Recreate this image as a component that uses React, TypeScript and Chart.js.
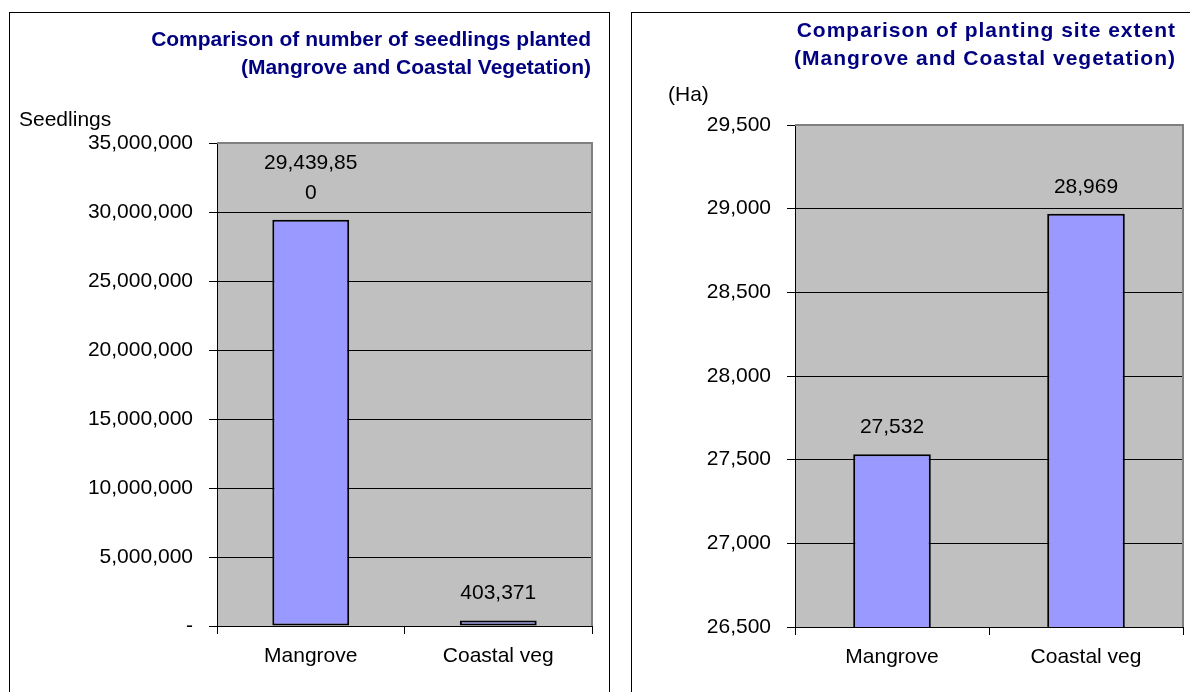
import React, { useEffect, useRef } from 'react';
import { Chart, registerables } from 'chart.js';

Chart.register(...registerables);

const FONT = '"Liberation Sans", Arial, sans-serif';

const categories = ['Mangrove', 'Coastal veg'];
const seedlingsPlanted = [29439850, 403371];
const seedlingsTicks = [0, 5000000, 10000000, 15000000, 20000000, 25000000, 30000000, 35000000];
const seedlingsTitle = ['Comparison of number of seedlings planted', '(Mangrove and Coastal Vegetation)'];
const seedlingsUnit = 'Seedlings';

const siteExtentHa = [27532, 28969];
const siteTicks = [26500, 27000, 27500, 28000, 28500, 29000, 29500];
const siteTitle = ['Comparison of planting site extent', '(Mangrove and Coastal vegetation)'];
const siteUnit = '(Ha)';

const fmt = (v: number) => (v === 0 ? '-' : Math.round(v).toLocaleString('en-US'));

type Cfg = {
  values: number[];
  ticks: number[];
  title: string[];
  unit: string;
  width: number;
  height: number;
  yWidth: number;
  padTop: number;
  padRight: number;
  xHeight: number;
  barPct: number;
  titleRight: number;
  titleYs: number[];
  titleSpacing: string;
  unitX: number;
  unitY: number;
  wrapChars: number;
};

function makeDecor(cfg: Cfg) {
  return {
    id: 'decor',
    beforeDraw(chart: any) {
      const { ctx, chartArea: a } = chart;
      ctx.save();
      ctx.fillStyle = '#C0C0C0';
      ctx.fillRect(a.left, a.top, a.right - a.left, a.bottom - a.top);
      ctx.restore();
    },
    afterDraw(chart: any) {
      const { ctx, chartArea: a } = chart;
      ctx.save();
      ctx.strokeStyle = '#808080';
      ctx.lineWidth = 2;
      ctx.beginPath();
      ctx.moveTo(a.left, a.top);
      ctx.lineTo(a.right, a.top);
      ctx.lineTo(a.right, a.bottom);
      ctx.stroke();
      // titles
      ctx.fillStyle = '#000080';
      ctx.font = `bold 21px ${FONT}`;
      ctx.textAlign = 'right';
      ctx.textBaseline = 'middle';
      (ctx as any).letterSpacing = cfg.titleSpacing;
      cfg.title.forEach((t, i) => ctx.fillText(t, cfg.titleRight, cfg.titleYs[i]));
      (ctx as any).letterSpacing = '0px';
      // unit label
      ctx.fillStyle = '#000';
      ctx.font = `21px ${FONT}`;
      ctx.textAlign = 'left';
      ctx.fillText(cfg.unit, cfg.unitX, cfg.unitY);
      // data labels
      ctx.textAlign = 'center';
      const meta = chart.getDatasetMeta(0);
      meta.data.forEach((el: any, i: number) => {
        const s = fmt(cfg.values[i]);
        const lines: string[] = [];
        for (let k = 0; k < s.length; k += cfg.wrapChars) lines.push(s.slice(k, k + cfg.wrapChars));
        const baseY = el.y - 27;
        lines.forEach((ln, j) => {
          ctx.fillText(ln, el.x, baseY - (lines.length - 1 - j) * 30);
        });
      });
      ctx.restore();
    },
  };
}

function BarChart({ cfg }: { cfg: Cfg }) {
  const ref = useRef<HTMLCanvasElement>(null);
  useEffect(() => {
    if (!ref.current) return;
    const tickFont = { family: FONT, size: 21 };
    const chart = new Chart(ref.current, {
      type: 'bar',
      data: {
        labels: categories,
        datasets: [
          {
            data: cfg.values,
            backgroundColor: '#9999FF',
            borderColor: '#000',
            borderWidth: 2,
            borderSkipped: false,
            barPercentage: cfg.barPct,
            categoryPercentage: 1,
          },
        ],
      },
      options: {
        responsive: false,
        animation: false,
        devicePixelRatio: 1,
        events: [],
        layout: { padding: { top: cfg.padTop, right: cfg.padRight, left: 0, bottom: 0 } },
        plugins: { legend: { display: false }, title: { display: false }, tooltip: { enabled: false } },
        scales: {
          x: {
            offset: true,
            grid: { offset: true, drawOnChartArea: false, drawTicks: true, tickLength: 8, color: '#000' },
            border: { display: true, color: '#000', width: 1 },
            ticks: { color: '#000', font: tickFont, padding: 10, maxRotation: 0 },
            afterFit: (s: any) => {
              s.height = cfg.xHeight;
            },
          },
          y: {
            min: cfg.ticks[0],
            max: cfg.ticks[cfg.ticks.length - 1],
            afterBuildTicks: (s: any) => {
              s.ticks = cfg.ticks.map((v) => ({ value: v }));
            },
            afterFit: (s: any) => {
              s.width = cfg.yWidth;
            },
            grid: { color: '#000', lineWidth: 1, tickLength: 8, drawTicks: true },
            border: { display: true, color: '#000', width: 1 },
            ticks: {
              color: '#000',
              font: tickFont,
              padding: 16,
              callback: (v: any) => fmt(Number(v)),
            },
          },
        },
      },
      plugins: [makeDecor(cfg)],
    } as any);
    return () => chart.destroy();
  }, [cfg]);
  return <canvas ref={ref} width={cfg.width} height={cfg.height} style={{ display: 'block' }} />;
}

const leftCfg: Cfg = {
  values: seedlingsPlanted,
  ticks: seedlingsTicks,
  title: seedlingsTitle,
  unit: seedlingsUnit,
  width: 599,
  height: 679,
  yWidth: 207,
  padTop: 130,
  padRight: 17,
  xHeight: 66,
  barPct: 0.41,
  titleRight: 581,
  titleYs: [27, 55],
  titleSpacing: '0px',
  unitX: 9,
  unitY: 107,
  wrapChars: 9,
};

const rightCfg: Cfg = {
  values: siteExtentHa,
  ticks: siteTicks,
  title: siteTitle,
  unit: siteUnit,
  width: 600,
  height: 679,
  yWidth: 163,
  padTop: 112,
  padRight: 49,
  xHeight: 65,
  barPct: 0.4,
  titleRight: 544,
  titleYs: [18, 46],
  titleSpacing: '1px',
  unitX: 36,
  unitY: 82,
  wrapChars: 20,
};

export default function App() {
  return (
    <div
      style={{
        position: 'fixed',
        left: 0,
        top: 0,
        width: 1190,
        height: 692,
        overflow: 'hidden',
        background: '#fff',
      }}
    >
      <div
        style={{
          position: 'absolute',
          left: 9,
          top: 12,
          width: 599,
          height: 700,
          border: '1px solid #000',
        }}
      >
        <BarChart cfg={leftCfg} />
      </div>
      <div
        style={{
          position: 'absolute',
          left: 631,
          top: 12,
          width: 600,
          height: 700,
          border: '1px solid #000',
        }}
      >
        <BarChart cfg={rightCfg} />
      </div>
    </div>
  );
}
